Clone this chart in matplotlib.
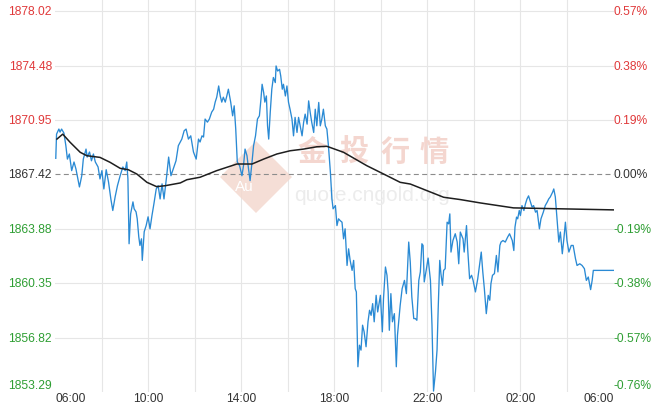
import matplotlib
matplotlib.use("Agg")
import matplotlib.pyplot as plt
import matplotlib.transforms as mtransforms
from matplotlib.patches import Polygon

# ---------------- data ----------------
base_price = 1867.42
y_ticks = [1853.29, 1856.82, 1860.35, 1863.88, 1867.42, 1870.95, 1874.48, 1878.02]
x_tick_minutes = [0, 240, 480, 720, 960, 1200, 1440]
x_tick_labels = ["06:00", "10:00", "14:00", "18:00", "22:00", "02:00", "06:00"]
x_grid_minutes = [120, 360, 600, 840, 1080, 1320]

# minutes after 06:00
price_t = [2, 4, 10, 13, 17, 23, 28, 32, 37, 43, 49, 54, 63, 69, 73, 80, 83, 89, 94, 99,
           104, 111, 116, 121, 126, 132, 138, 144, 149, 155, 161, 168, 175, 181, 185, 188, 191, 195, 201, 204,
           209, 212, 216, 219, 223, 225, 230, 235, 240, 245, 250, 255, 261, 266, 271, 276, 281, 288, 293, 299,
           305, 312, 318, 327, 333, 338, 344, 350, 357, 364, 370, 374, 379, 383, 387, 393, 398, 404, 409, 413,
           417, 422, 426, 430, 434, 439, 443, 447, 453, 458, 462, 466, 470, 476, 482, 486, 490, 495, 499, 503,
           508, 512, 517, 522, 527, 531, 534, 538, 541, 545, 548, 551, 555, 559, 563, 568, 570, 574, 579, 582,
           586, 589, 594, 598, 602, 606, 611, 615, 619, 624, 628, 632, 637, 641, 645, 650, 654, 658, 662, 667,
           671, 675, 680, 684, 688, 692, 697, 701, 705, 710, 714, 717, 723, 727, 731, 735, 740, 744, 748, 753,
           757, 761, 766, 770, 774, 777, 781, 785, 789, 793, 797, 802, 807, 811, 815, 819, 823, 828, 832, 839,
           844, 847, 852, 856, 859, 862, 866, 870, 875, 880, 883, 890, 895, 901, 906, 912, 916, 920, 925, 929,
           933, 938, 942, 946, 949, 952, 957, 962, 968, 972, 976, 981, 985, 988, 992, 995, 999, 1002, 1006, 1011,
           1015, 1018, 1021, 1026, 1032, 1037, 1041, 1045, 1052, 1055, 1061, 1064, 1069, 1074, 1078, 1084, 1090, 1095, 1099, 1103,
           1107, 1112, 1117, 1121, 1124, 1128, 1133, 1138, 1142, 1147, 1150, 1155, 1161, 1167, 1172, 1179, 1183, 1186, 1190, 1193,
           1197, 1200, 1204, 1209, 1213, 1217, 1221, 1226, 1230, 1234, 1239, 1243, 1249, 1253, 1259, 1264, 1269, 1273, 1277, 1283,
           1286, 1290, 1295, 1299, 1303, 1308, 1312, 1316, 1320, 1325, 1331, 1336, 1342, 1346, 1353, 1359, 1365, 1370, 1375, 1381,
           1385, 1388, 1440]
price_v = [1868.47, 1870.04, 1870.37, 1870.17, 1870.37, 1870.11, 1869.29, 1868.42, 1868.75, 1867.67, 1868.23, 1867.78, 1866.61, 1867.34, 1868.42, 1869.07, 1868.55, 1868.88, 1868.31, 1868.75,
           1868.23, 1867.91, 1867.13, 1867.67, 1866.48, 1867.73, 1866.93, 1865.83, 1865.08, 1865.96, 1866.69, 1867.34, 1867.91, 1867.67, 1868.23, 1867.13, 1862.92, 1864.86, 1865.64, 1865.19,
           1864.99, 1864.54, 1863.37, 1862.81, 1863.24, 1861.84, 1863.70, 1864.10, 1864.67, 1863.89, 1864.75, 1865.51, 1866.48, 1866.69, 1865.83, 1866.81, 1865.83, 1867.34, 1868.55, 1867.34,
           1867.78, 1868.31, 1869.29, 1869.72, 1870.26, 1870.37, 1869.72, 1869.93, 1868.88, 1868.42, 1869.72, 1869.53, 1869.93, 1869.85, 1871.02, 1870.82, 1871.02, 1871.47, 1871.66, 1872.12,
           1872.44, 1873.17, 1872.52, 1872.12, 1872.44, 1872.12, 1872.52, 1872.96, 1872.12, 1871.23, 1871.88, 1870.37, 1868.23, 1867.99, 1867.34, 1867.99, 1869.07, 1868.64, 1867.78, 1867.02,
           1868.23, 1869.29, 1869.93, 1871.02, 1871.23, 1872.31, 1873.28, 1872.74, 1872.12, 1872.52, 1870.58, 1869.72, 1871.47, 1872.96, 1873.72, 1873.39, 1874.47, 1874.14, 1874.25, 1873.82,
           1872.96, 1873.28, 1872.52, 1873.17, 1872.12, 1871.66, 1871.02, 1869.93, 1871.13, 1870.15, 1871.13, 1870.58, 1869.93, 1870.80, 1871.34, 1870.69, 1872.20, 1871.45, 1870.80, 1870.15,
           1871.66, 1870.58, 1872.10, 1870.58, 1871.02, 1871.66, 1870.58, 1870.37, 1869.29, 1867.58, 1865.83, 1865.19, 1865.40, 1864.10, 1864.54, 1864.43, 1864.32, 1863.24, 1863.89, 1861.51,
           1862.59, 1861.84, 1861.19, 1861.84, 1860.00, 1859.79, 1854.93, 1856.33, 1856.01, 1857.63, 1857.20, 1856.23, 1857.85, 1858.60, 1858.27, 1859.03, 1857.85, 1859.57, 1858.49, 1859.57,
           1857.20, 1859.36, 1861.41, 1860.87, 1859.79, 1857.30, 1859.68, 1857.85, 1858.38, 1854.93, 1856.98, 1858.92, 1860.00, 1860.54, 1859.68, 1863.03, 1861.73, 1859.47, 1858.06, 1858.06,
           1857.95, 1860.54, 1861.09, 1862.92, 1862.81, 1860.44, 1861.19, 1861.99, 1860.54, 1857.63, 1853.35, 1854.61, 1856.01, 1858.71, 1861.84, 1860.98, 1860.22, 1861.19, 1861.30, 1864.32,
           1864.21, 1864.86, 1862.38, 1863.13, 1863.57, 1863.03, 1861.62, 1863.68, 1863.24, 1862.38, 1864.10, 1862.59, 1860.65, 1860.87, 1860.54, 1859.79, 1860.65, 1861.62, 1862.38, 1861.09,
           1860.00, 1858.38, 1859.57, 1859.25, 1860.33, 1860.87, 1860.98, 1862.16, 1861.09, 1862.81, 1863.03, 1863.13, 1863.03, 1863.35, 1863.57, 1863.13, 1862.48, 1864.00, 1864.65, 1864.54,
           1865.08, 1864.75, 1865.40, 1865.08, 1865.51, 1865.83, 1866.03, 1865.62, 1865.30, 1865.40, 1864.97, 1865.08, 1863.89, 1864.54, 1864.97, 1865.40, 1865.62, 1865.83, 1865.96, 1866.27,
           1866.48, 1865.96, 1864.32, 1863.03, 1863.68, 1862.27, 1863.24, 1864.32, 1863.13, 1862.38, 1862.81, 1862.81, 1861.95, 1861.51, 1861.62, 1861.51, 1861.30, 1860.54, 1860.76, 1859.94,
           1860.54, 1861.19, 1861.19]

avg_t = [5, 20, 39, 65, 82, 116, 142, 168, 189, 211, 237, 262, 284, 323, 340, 374, 417, 469, 508, 538,
         572, 606, 641, 675, 701, 744, 804, 856, 890, 916, 1002, 1045, 1097, 1182, 1303, 1440]
avg_v = [1869.72, 1870.04, 1869.51, 1868.86, 1868.64, 1868.53, 1868.21, 1867.82, 1867.73, 1867.45,
         1866.91, 1866.63, 1866.69, 1866.87, 1867.08, 1867.24, 1867.67, 1868.10, 1868.10, 1868.42,
         1868.75, 1868.96, 1869.07, 1869.22, 1869.25, 1868.86, 1867.99, 1867.34, 1866.91, 1866.80,
         1865.94, 1865.79, 1865.57, 1865.25, 1865.19, 1865.12]

# ---------------- style ----------------
W, H = 652, 406
plt.rcParams['font.family'] = ['Liberation Sans', 'DejaVu Sans']
FS = 8.64
RED = '#e0393a'
GREEN = '#2e9e33'
DARK = '#333333'
GRID = '#e6e6e6'

fig = plt.figure(figsize=(W / 100, H / 100), dpi=100)
fig.patch.set_facecolor('white')
ax_l, ax_r, ax_top, ax_bot = 55, 613.5, 0, 393
ax = fig.add_axes([ax_l / W, (H - ax_bot) / H, (ax_r - ax_l) / W, (ax_bot - ax_top) / H])
for s in ax.spines.values():
    s.set_visible(False)

ax.set_xlim(0, 1440)
ax.set_ylim(y_ticks[0], y_ticks[0] + (y_ticks[-1] - y_ticks[0]) / (393.1 - 12.3) * 393.1)

# grid
for v in y_ticks[1:]:
    if v == base_price:
        continue
    ax.axhline(v, color=GRID, lw=0.8, zorder=0.5)
for t in x_tick_minutes[1:-1] + x_grid_minutes:
    ax.axvline(t, color=GRID, lw=0.8, zorder=0.5)
ax.axhline(base_price, color='#8c8c8c', lw=0.8, ls=(0, (4.5, 3)), zorder=1)

# watermark
def axfrac(px, py):
    return ((px - ax_l) / (ax_r - ax_l), (ax_bot - py) / (ax_bot - ax_top))

cx, cy, hd = 256, 178, 36
diamond = [axfrac(cx - hd, cy), axfrac(cx, cy - hd), axfrac(cx + hd, cy), axfrac(cx, cy + hd)]
ax.add_patch(Polygon(diamond, closed=True, transform=ax.transAxes, facecolor='#f4d9cf',
                     edgecolor='none', alpha=0.85, zorder=0.6, joinstyle='round'))
ax.text(*axfrac(244, 187), 'Au', transform=ax.transAxes, ha='center', va='center',
        fontsize=11, color='white', zorder=0.7)
for ch, px in zip('金投行情', [312, 354, 395, 434]):
    ax.text(*axfrac(px, 152), ch, transform=ax.transAxes, ha='center', va='center',
            fontsize=21, color='#f4d6cf', family=['Noto Sans CJK SC'], weight='bold', zorder=0.6)
ax.text(*axfrac(372, 196), 'quote.cngold.org', transform=ax.transAxes, ha='center', va='center',
        fontsize=15, color='#ececec', zorder=0.6)

# lines
ax.plot(price_t, price_v, color='#2a8ad4', lw=0.95, zorder=3, solid_joinstyle='round')
ax.plot(avg_t, avg_v, color='#1e1e1e', lw=1.1, zorder=4)

# y labels (left = price, right = percent)
ax.set_yticks([])
left_tr = mtransforms.blended_transform_factory(ax.transAxes, ax.transData)
for i, v in enumerate(y_ticks):
    col = RED if v > base_price else (GREEN if v < base_price else DARK)
    dy = 7 / 100 if i == 0 else 0
    off_l = mtransforms.ScaledTranslation(-3 / 100, dy, fig.dpi_scale_trans)
    off_r = mtransforms.ScaledTranslation(0 / 100, dy, fig.dpi_scale_trans)
    ax.text(0, v, f'{v:.2f}', transform=left_tr + off_l, ha='right', va='center',
            fontsize=FS, color=col)
    pct = (v / base_price - 1) * 100
    ax.text(1, v, f'{pct:.2f}%', transform=left_tr + off_r, ha='left', va='center',
            fontsize=FS, color=col)

# x labels
ax.set_xticks(x_tick_minutes)
ax.set_xticklabels(x_tick_labels, fontsize=FS, color=DARK)
ax.tick_params(axis='x', length=0, pad=0)
labs = ax.get_xticklabels()
labs[0].set_ha('left')
labs[-1].set_ha('right')

fig.savefig('out.png', dpi=100, facecolor='white')
